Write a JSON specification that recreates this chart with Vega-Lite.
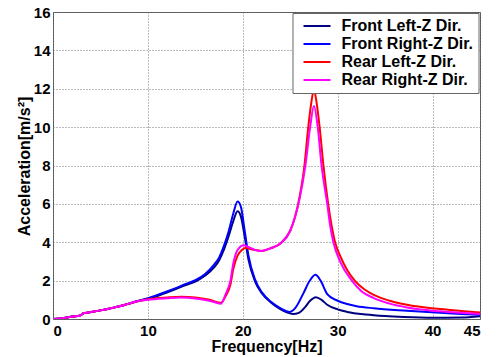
{
  "$schema": "https://vega.github.io/schema/vega-lite/v6.json",
  "autosize": {"type": "none"},
  "width": 427,
  "height": 307,
  "padding": {"left": 53, "top": 12, "right": 18, "bottom": 38},
  "background": "white",
  "config": {
    "font": "Liberation Sans",
    "view": {"stroke": "#555555", "strokeWidth": 1},
    "axis": {
      "labelFont": "Liberation Sans", "labelFontWeight": "bold", "labelFontSize": 15, "labelColor": "black",
      "titleFont": "Liberation Sans", "titleFontWeight": "bold", "titleFontSize": 16, "titleColor": "black",
      "gridColor": "#777777", "gridDash": [1, 2], "gridWidth": 1, "gridOpacity": 1,
      "domain": false, "ticks": false
    }
  },
  "datasets": {
    "curves": [
      {"f": 0, "a": 0, "s": "Front Left-Z Dir."}, {"f": 0.8, "a": 0.03, "s": "Front Left-Z Dir."}, {"f": 1.5, "a": 0.08, "s": "Front Left-Z Dir."}, {"f": 2, "a": 0.13, "s": "Front Left-Z Dir."}, {"f": 2.8, "a": 0.17, "s": "Front Left-Z Dir."}, {"f": 3.0, "a": 0.22, "s": "Front Left-Z Dir."}, {"f": 3.2, "a": 0.3, "s": "Front Left-Z Dir."}, {"f": 4, "a": 0.36, "s": "Front Left-Z Dir."}, {"f": 5, "a": 0.45, "s": "Front Left-Z Dir."}, {"f": 6, "a": 0.55, "s": "Front Left-Z Dir."}, {"f": 7, "a": 0.66, "s": "Front Left-Z Dir."}, {"f": 8, "a": 0.8, "s": "Front Left-Z Dir."}, {"f": 8.7, "a": 0.9, "s": "Front Left-Z Dir."},
      {"f": 10, "a": 1.05, "s": "Front Left-Z Dir."}, {"f": 11, "a": 1.2, "s": "Front Left-Z Dir."}, {"f": 12, "a": 1.38, "s": "Front Left-Z Dir."}, {"f": 13, "a": 1.57, "s": "Front Left-Z Dir."}, {"f": 14, "a": 1.77, "s": "Front Left-Z Dir."}, {"f": 15, "a": 1.95, "s": "Front Left-Z Dir."}, {"f": 16, "a": 2.25, "s": "Front Left-Z Dir."}, {"f": 17, "a": 2.7, "s": "Front Left-Z Dir."}, {"f": 17.5, "a": 3.05, "s": "Front Left-Z Dir."}, {"f": 18, "a": 3.6, "s": "Front Left-Z Dir."}, {"f": 18.5, "a": 4.3, "s": "Front Left-Z Dir."}, {"f": 19, "a": 5.1, "s": "Front Left-Z Dir."}, {"f": 19.45, "a": 5.62, "s": "Front Left-Z Dir."}, {"f": 19.8, "a": 5.35, "s": "Front Left-Z Dir."}, {"f": 20.2, "a": 4.3, "s": "Front Left-Z Dir."}, {"f": 20.6, "a": 3.1, "s": "Front Left-Z Dir."}, {"f": 21.3, "a": 1.95, "s": "Front Left-Z Dir."}, {"f": 22, "a": 1.35, "s": "Front Left-Z Dir."}, {"f": 23, "a": 0.85, "s": "Front Left-Z Dir."}, {"f": 24, "a": 0.5, "s": "Front Left-Z Dir."}, {"f": 24.7, "a": 0.33, "s": "Front Left-Z Dir."}, {"f": 25.3, "a": 0.26, "s": "Front Left-Z Dir."}, {"f": 25.9, "a": 0.32, "s": "Front Left-Z Dir."}, {"f": 26.5, "a": 0.58, "s": "Front Left-Z Dir."}, {"f": 27.1, "a": 0.95, "s": "Front Left-Z Dir."}, {"f": 27.7, "a": 1.14, "s": "Front Left-Z Dir."}, {"f": 28.3, "a": 1.0, "s": "Front Left-Z Dir."}, {"f": 28.9, "a": 0.74, "s": "Front Left-Z Dir."}, {"f": 30, "a": 0.5, "s": "Front Left-Z Dir."}, {"f": 31, "a": 0.37, "s": "Front Left-Z Dir."}, {"f": 33, "a": 0.23, "s": "Front Left-Z Dir."}, {"f": 35, "a": 0.15, "s": "Front Left-Z Dir."}, {"f": 37, "a": 0.1, "s": "Front Left-Z Dir."}, {"f": 40, "a": 0.06, "s": "Front Left-Z Dir."}, {"f": 43, "a": 0.08, "s": "Front Left-Z Dir."}, {"f": 45, "a": 0.15, "s": "Front Left-Z Dir."},

      {"f": 0, "a": 0, "s": "Front Right-Z Dir."}, {"f": 0.8, "a": 0.03, "s": "Front Right-Z Dir."}, {"f": 1.5, "a": 0.08, "s": "Front Right-Z Dir."}, {"f": 2, "a": 0.13, "s": "Front Right-Z Dir."}, {"f": 2.8, "a": 0.17, "s": "Front Right-Z Dir."}, {"f": 3.0, "a": 0.22, "s": "Front Right-Z Dir."}, {"f": 3.2, "a": 0.3, "s": "Front Right-Z Dir."}, {"f": 4, "a": 0.36, "s": "Front Right-Z Dir."}, {"f": 5, "a": 0.45, "s": "Front Right-Z Dir."}, {"f": 6, "a": 0.55, "s": "Front Right-Z Dir."}, {"f": 7, "a": 0.66, "s": "Front Right-Z Dir."}, {"f": 8, "a": 0.8, "s": "Front Right-Z Dir."}, {"f": 8.7, "a": 0.91, "s": "Front Right-Z Dir."},
      {"f": 10, "a": 1.08, "s": "Front Right-Z Dir."}, {"f": 11, "a": 1.25, "s": "Front Right-Z Dir."}, {"f": 12, "a": 1.43, "s": "Front Right-Z Dir."}, {"f": 13, "a": 1.62, "s": "Front Right-Z Dir."}, {"f": 14, "a": 1.83, "s": "Front Right-Z Dir."}, {"f": 15, "a": 2.02, "s": "Front Right-Z Dir."}, {"f": 16, "a": 2.33, "s": "Front Right-Z Dir."}, {"f": 17, "a": 2.85, "s": "Front Right-Z Dir."}, {"f": 17.5, "a": 3.2, "s": "Front Right-Z Dir."}, {"f": 18, "a": 3.8, "s": "Front Right-Z Dir."}, {"f": 18.5, "a": 4.55, "s": "Front Right-Z Dir."}, {"f": 19, "a": 5.5, "s": "Front Right-Z Dir."}, {"f": 19.45, "a": 6.12, "s": "Front Right-Z Dir."}, {"f": 19.8, "a": 5.85, "s": "Front Right-Z Dir."}, {"f": 20.2, "a": 4.6, "s": "Front Right-Z Dir."}, {"f": 20.6, "a": 3.3, "s": "Front Right-Z Dir."}, {"f": 21.3, "a": 2.05, "s": "Front Right-Z Dir."}, {"f": 22, "a": 1.4, "s": "Front Right-Z Dir."}, {"f": 23, "a": 0.88, "s": "Front Right-Z Dir."}, {"f": 24, "a": 0.55, "s": "Front Right-Z Dir."}, {"f": 24.9, "a": 0.36, "s": "Front Right-Z Dir."}, {"f": 25.5, "a": 0.55, "s": "Front Right-Z Dir."}, {"f": 26.4, "a": 1.35, "s": "Front Right-Z Dir."}, {"f": 27, "a": 1.95, "s": "Front Right-Z Dir."}, {"f": 27.65, "a": 2.3, "s": "Front Right-Z Dir."}, {"f": 28.2, "a": 2.0, "s": "Front Right-Z Dir."}, {"f": 28.9, "a": 1.3, "s": "Front Right-Z Dir."}, {"f": 30, "a": 0.95, "s": "Front Right-Z Dir."}, {"f": 31, "a": 0.78, "s": "Front Right-Z Dir."}, {"f": 32, "a": 0.67, "s": "Front Right-Z Dir."}, {"f": 33.8, "a": 0.56, "s": "Front Right-Z Dir."}, {"f": 37.3, "a": 0.43, "s": "Front Right-Z Dir."}, {"f": 40.8, "a": 0.32, "s": "Front Right-Z Dir."}, {"f": 43, "a": 0.26, "s": "Front Right-Z Dir."}, {"f": 45, "a": 0.22, "s": "Front Right-Z Dir."},

      {"f": 0, "a": 0, "s": "Rear Left-Z Dir."}, {"f": 0.8, "a": 0.03, "s": "Rear Left-Z Dir."}, {"f": 1.5, "a": 0.08, "s": "Rear Left-Z Dir."}, {"f": 2, "a": 0.13, "s": "Rear Left-Z Dir."}, {"f": 2.8, "a": 0.17, "s": "Rear Left-Z Dir."}, {"f": 3.0, "a": 0.22, "s": "Rear Left-Z Dir."}, {"f": 3.2, "a": 0.3, "s": "Rear Left-Z Dir."}, {"f": 4, "a": 0.36, "s": "Rear Left-Z Dir."}, {"f": 5, "a": 0.45, "s": "Rear Left-Z Dir."}, {"f": 6, "a": 0.55, "s": "Rear Left-Z Dir."}, {"f": 7, "a": 0.66, "s": "Rear Left-Z Dir."}, {"f": 8, "a": 0.8, "s": "Rear Left-Z Dir."}, {"f": 8.7, "a": 0.9, "s": "Rear Left-Z Dir."},
      {"f": 10, "a": 1.03, "s": "Rear Left-Z Dir."}, {"f": 12, "a": 1.12, "s": "Rear Left-Z Dir."}, {"f": 13.5, "a": 1.16, "s": "Rear Left-Z Dir."}, {"f": 15, "a": 1.12, "s": "Rear Left-Z Dir."}, {"f": 16.5, "a": 1.0, "s": "Rear Left-Z Dir."}, {"f": 17.7, "a": 0.85, "s": "Rear Left-Z Dir."}, {"f": 18.2, "a": 1.2, "s": "Rear Left-Z Dir."}, {"f": 18.7, "a": 1.8, "s": "Rear Left-Z Dir."}, {"f": 19.0, "a": 2.6, "s": "Rear Left-Z Dir."}, {"f": 19.45, "a": 3.3, "s": "Rear Left-Z Dir."}, {"f": 19.9, "a": 3.6, "s": "Rear Left-Z Dir."}, {"f": 20.3, "a": 3.7, "s": "Rear Left-Z Dir."}, {"f": 21, "a": 3.62, "s": "Rear Left-Z Dir."}, {"f": 22, "a": 3.55, "s": "Rear Left-Z Dir."}, {"f": 23, "a": 3.7, "s": "Rear Left-Z Dir."}, {"f": 24, "a": 3.95, "s": "Rear Left-Z Dir."}, {"f": 25, "a": 4.6, "s": "Rear Left-Z Dir."}, {"f": 25.5, "a": 5.3, "s": "Rear Left-Z Dir."}, {"f": 26, "a": 6.4, "s": "Rear Left-Z Dir."}, {"f": 26.5, "a": 8.0, "s": "Rear Left-Z Dir."}, {"f": 26.9, "a": 10.0, "s": "Rear Left-Z Dir."}, {"f": 27.2, "a": 11.2, "s": "Rear Left-Z Dir."}, {"f": 27.5, "a": 11.95, "s": "Rear Left-Z Dir."}, {"f": 27.8, "a": 11.2, "s": "Rear Left-Z Dir."}, {"f": 28.1, "a": 10.0, "s": "Rear Left-Z Dir."}, {"f": 28.5, "a": 8.0, "s": "Rear Left-Z Dir."}, {"f": 29, "a": 6.0, "s": "Rear Left-Z Dir."}, {"f": 29.35, "a": 4.9, "s": "Rear Left-Z Dir."}, {"f": 29.7, "a": 4.05, "s": "Rear Left-Z Dir."}, {"f": 30.3, "a": 3.25, "s": "Rear Left-Z Dir."}, {"f": 31, "a": 2.55, "s": "Rear Left-Z Dir."}, {"f": 31.8, "a": 2.0, "s": "Rear Left-Z Dir."}, {"f": 32.8, "a": 1.55, "s": "Rear Left-Z Dir."}, {"f": 33.8, "a": 1.26, "s": "Rear Left-Z Dir."}, {"f": 35.5, "a": 0.95, "s": "Rear Left-Z Dir."}, {"f": 37.3, "a": 0.74, "s": "Rear Left-Z Dir."}, {"f": 40.8, "a": 0.52, "s": "Rear Left-Z Dir."}, {"f": 43, "a": 0.42, "s": "Rear Left-Z Dir."}, {"f": 45, "a": 0.34, "s": "Rear Left-Z Dir."},

      {"f": 0, "a": 0, "s": "Rear Right-Z Dir."}, {"f": 0.8, "a": 0.03, "s": "Rear Right-Z Dir."}, {"f": 1.5, "a": 0.08, "s": "Rear Right-Z Dir."}, {"f": 2, "a": 0.13, "s": "Rear Right-Z Dir."}, {"f": 2.8, "a": 0.17, "s": "Rear Right-Z Dir."}, {"f": 3.0, "a": 0.22, "s": "Rear Right-Z Dir."}, {"f": 3.2, "a": 0.3, "s": "Rear Right-Z Dir."}, {"f": 4, "a": 0.36, "s": "Rear Right-Z Dir."}, {"f": 5, "a": 0.45, "s": "Rear Right-Z Dir."}, {"f": 6, "a": 0.55, "s": "Rear Right-Z Dir."}, {"f": 7, "a": 0.66, "s": "Rear Right-Z Dir."}, {"f": 8, "a": 0.8, "s": "Rear Right-Z Dir."}, {"f": 8.7, "a": 0.9, "s": "Rear Right-Z Dir."},
      {"f": 10, "a": 1.0, "s": "Rear Right-Z Dir."}, {"f": 12, "a": 1.08, "s": "Rear Right-Z Dir."}, {"f": 13.5, "a": 1.12, "s": "Rear Right-Z Dir."}, {"f": 15, "a": 1.07, "s": "Rear Right-Z Dir."}, {"f": 16.5, "a": 0.95, "s": "Rear Right-Z Dir."}, {"f": 17.7, "a": 0.8, "s": "Rear Right-Z Dir."}, {"f": 18.2, "a": 1.3, "s": "Rear Right-Z Dir."}, {"f": 18.7, "a": 2.0, "s": "Rear Right-Z Dir."}, {"f": 19.0, "a": 2.9, "s": "Rear Right-Z Dir."}, {"f": 19.45, "a": 3.6, "s": "Rear Right-Z Dir."}, {"f": 20.1, "a": 3.85, "s": "Rear Right-Z Dir."}, {"f": 20.6, "a": 3.75, "s": "Rear Right-Z Dir."}, {"f": 21.3, "a": 3.6, "s": "Rear Right-Z Dir."}, {"f": 22, "a": 3.55, "s": "Rear Right-Z Dir."}, {"f": 23, "a": 3.7, "s": "Rear Right-Z Dir."}, {"f": 24, "a": 3.95, "s": "Rear Right-Z Dir."}, {"f": 25, "a": 4.6, "s": "Rear Right-Z Dir."}, {"f": 25.5, "a": 5.3, "s": "Rear Right-Z Dir."}, {"f": 26, "a": 6.3, "s": "Rear Right-Z Dir."}, {"f": 26.6, "a": 8.0, "s": "Rear Right-Z Dir."}, {"f": 27.1, "a": 10.0, "s": "Rear Right-Z Dir."}, {"f": 27.5, "a": 11.1, "s": "Rear Right-Z Dir."}, {"f": 27.9, "a": 10.0, "s": "Rear Right-Z Dir."}, {"f": 28.3, "a": 8.0, "s": "Rear Right-Z Dir."}, {"f": 28.9, "a": 6.0, "s": "Rear Right-Z Dir."}, {"f": 29.2, "a": 4.9, "s": "Rear Right-Z Dir."}, {"f": 29.55, "a": 4.0, "s": "Rear Right-Z Dir."}, {"f": 30.3, "a": 2.95, "s": "Rear Right-Z Dir."}, {"f": 31.5, "a": 2.0, "s": "Rear Right-Z Dir."}, {"f": 32.5, "a": 1.45, "s": "Rear Right-Z Dir."}, {"f": 33.8, "a": 1.09, "s": "Rear Right-Z Dir."}, {"f": 35.5, "a": 0.8, "s": "Rear Right-Z Dir."}, {"f": 37.3, "a": 0.6, "s": "Rear Right-Z Dir."}, {"f": 40.8, "a": 0.4, "s": "Rear Right-Z Dir."}, {"f": 43, "a": 0.32, "s": "Rear Right-Z Dir."}, {"f": 45, "a": 0.26, "s": "Rear Right-Z Dir."}
    ]
  },
  "data": {"name": "curves"},
  "mark": {"type": "line", "strokeWidth": 2, "interpolate": "monotone", "clip": true},
  "encoding": {
    "x": {
      "field": "f", "type": "quantitative",
      "scale": {"domain": [0, 45], "nice": false, "zero": false},
      "axis": {
        "title": "Frequency[Hz]", "values": [0, 10, 20, 30, 40, 45],
        "labelPadding": 4, "labelBaseline": "top",
        "titleX": 213.5, "titleY": 32.5, "titleBaseline": "alphabetic", "titleAnchor": "middle"
      }
    },
    "y": {
      "field": "a", "type": "quantitative",
      "scale": {"domain": [0, 16], "nice": false},
      "axis": {
        "title": "Acceleration[m/s²]", "values": [0, 2, 4, 6, 8, 10, 12, 14, 16],
        "labelPadding": 3,
        "titleX": -24, "titleY": 154, "titleAngle": -90, "titleBaseline": "alphabetic", "titleAnchor": "middle", "titleAlign": "center"
      }
    },
    "color": {
      "field": "s", "type": "nominal",
      "scale": {
        "domain": ["Front Left-Z Dir.", "Front Right-Z Dir.", "Rear Left-Z Dir.", "Rear Right-Z Dir."],
        "range": ["#000080", "#0000ff", "#ff0000", "#ff00ff"]
      },
      "legend": {
        "title": null, "orient": "none", "legendX": 239.5, "legendY": 1,
        "fillColor": "white", "strokeColor": "#666666", "padding": 5,
        "rowPadding": 2, "symbolSize": 144, "symbolType": "M-0.333,0H4.167",
        "symbolStrokeWidth": 2, "labelOffset": 28,
        "labelFont": "Liberation Sans", "labelFontWeight": "bold", "labelFontSize": 16, "labelColor": "black",
        "labelLimit": 300
      }
    }
  }
}
